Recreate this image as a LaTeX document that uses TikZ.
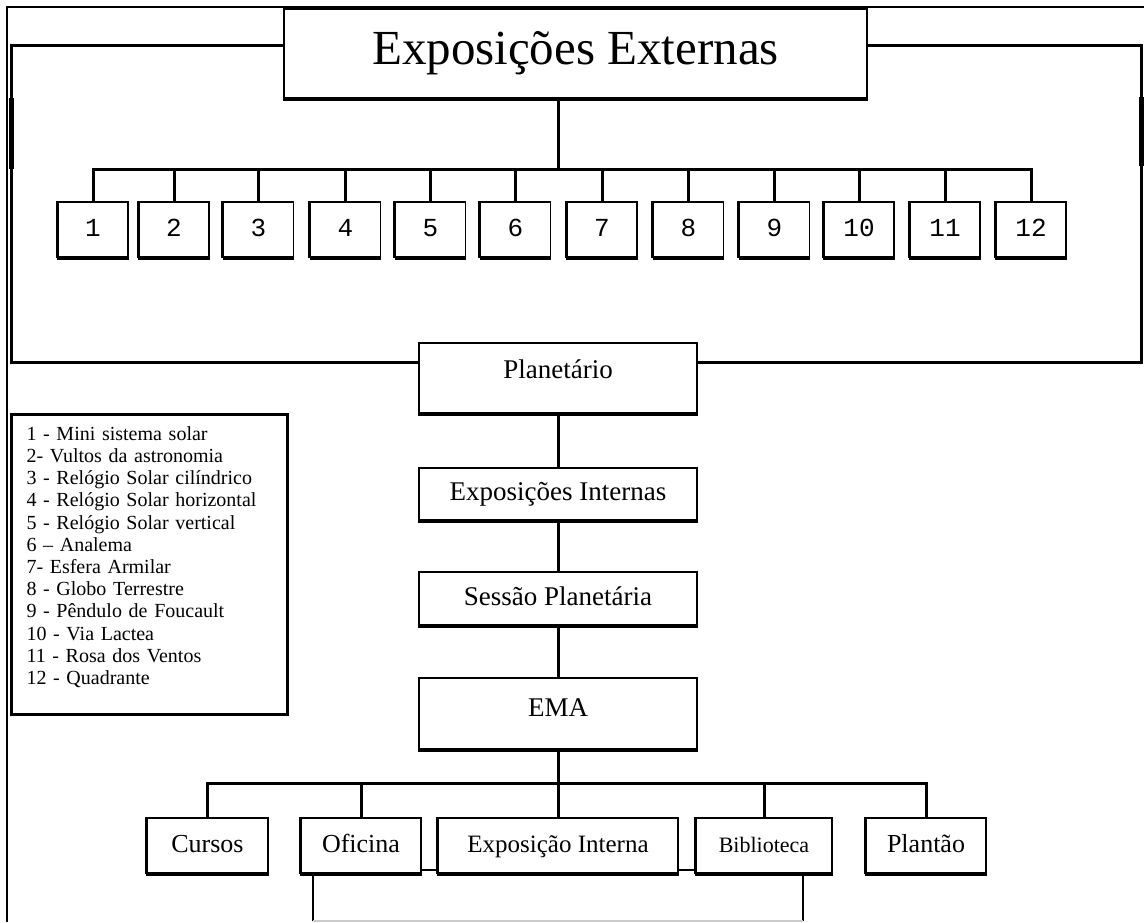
\documentclass[tikz,border=0pt]{standalone}
\usepackage{fontspec}
\setmainfont{Liberation Serif}
\newfontfamily\numfont{Liberation Mono}
\tikzset{
    frameline/.style={line width=1.5pt},
    conn/.style={line width=1.5pt},
    box/.style={draw, line width=0.8pt, inner sep=0pt, fill=white, text height=0.8em, text depth=0.14em,
        append after command={(\tikzlastnode.south west) edge[line width=2pt] (\tikzlastnode.south east)}},
    sbox/.style={box,
        append after command={(\tikzlastnode.south west) edge[line width=1.6pt] (\tikzlastnode.north west)}},
    numbox/.style={sbox, minimum width=35pt, minimum height=27.5pt, font=\numfont\fontsize{13}{15}\selectfont},
    midbox/.style={box, minimum width=139pt, font=\fontsize{13.5}{15}\selectfont},
    lowbox/.style={sbox, minimum height=27.5pt, font=\fontsize{13}{15}\selectfont},
    legend/.style={draw, line width=1.5pt, inner xsep=7.5pt, inner ysep=0pt, text width=123pt,
        minimum height=150pt, align=left, font=\fontsize{10}{11.1}\selectfont}
}
\begin{document}
\begin{tikzpicture}[x=0.5pt,y=-0.5pt]
    \useasboundingbox (0,0) rectangle (1144,922);
    % Cornice
    \draw[line width=0.7pt] (7,922) -- (7,7) -- (1144,7);
    % Nodi
    \node[box, minimum width=291.5pt, minimum height=44.5pt, text height=12pt, text depth=1.5pt, font=\fontsize{24.5}{28}\selectfont] (ext) at (575.5,53.5) {Exposições Externas};
    \node[numbox] (n1) at (93,229.5) {1};
    \node[numbox] (n2) at (174,229.5) {2};
    \node[numbox] (n3) at (258.5,229.5) {3};
    \node[numbox] (n4) at (345.5,229.5) {4};
    \node[numbox] (n5) at (430.5,229.5) {5};
    \node[numbox] (n6) at (515.5,229.5) {6};
    \node[numbox] (n7) at (602,229.5) {7};
    \node[numbox] (n8) at (688.5,229.5) {8};
    \node[numbox] (n9) at (774.5,229.5) {9};
    \node[numbox] (n10) at (859,229.5) {10};
    \node[numbox] (n11) at (945,229.5) {11};
    \node[numbox] (n12) at (1031,229.5) {12};
    \node[midbox, minimum height=35pt, text depth=7.9pt] (plan) at (558,378) {Planetário};
    \node[midbox, minimum height=26pt] (expint) at (558,494) {Exposições Internas};
    \node[midbox, minimum height=26.5pt] (sess) at (558,598.5) {Sessão Planetária};
    \node[midbox, minimum height=35.5pt, text depth=4.9pt] (ema) at (558,713.5) {EMA};
    \node[lowbox, minimum width=60.5pt] (cur) at (207.5,845.5) {Cursos};
    \node[lowbox, minimum width=60pt] (ofi) at (361,845.5) {Oficina};
    \node[lowbox, minimum width=120pt, font=\fontsize{12.5}{15}\selectfont] (exi) at (558,845.5) {Exposição Interna};
    \node[lowbox, minimum width=68pt, font=\fontsize{11}{13}\selectfont] (bib) at (764,845.5) {Biblioteca};
    \node[lowbox, minimum width=60pt] (pla) at (926,845.5) {Plantão};
    \node[legend, anchor=north west] (leg) at (10,413) {1 - Mini sistema solar\\
        2- Vultos da astronomia\\
        3 - Relógio Solar cilíndrico\\
        4 - Relógio Solar horizontal\\
        5 - Relógio Solar vertical\\
        6 – Analema\\
        7- Esfera Armilar\\
        8 - Globo Terrestre\\
        9 - Pêndulo de Foucault\\
        10 - Via Lactea\\
        11 - Rosa dos Ventos\\
        12 - Quadrante\rule[-9pt]{0pt}{9pt}};
    % Coordinate
    \coordinate (ftl) at (11,45);
    \coordinate (fbl) at (11,362);
    \coordinate (ftr) at (1141,45);
    \coordinate (fbr) at (1141,362);
    \coordinate (bus) at (558,169);
    \coordinate (lowbus) at (558,783);
    % Linee
    \draw[frameline] (plan.west |- fbl) -- (fbl) -- (ftl) -- (ext.west |- ftl);
    \draw[frameline] (plan.east |- fbr) -- (fbr) -- (ftr) -- (ext.east |- ftr);
    \draw[line width=2.5pt] (11,98) -- (11,169);
    \draw[line width=2.5pt] (1141,97) -- (1141,166);
    \draw[conn] (ext.south -| bus) -- (bus);
    \draw[conn] (n1.north) -- (n1.north |- bus) -- (n12.north |- bus) -- (n12.north);
    \draw[conn] (n2.north) -- (n2.north |- bus);
    \draw[conn] (n3.north) -- (n3.north |- bus);
    \draw[conn] (n4.north) -- (n4.north |- bus);
    \draw[conn] (n5.north) -- (n5.north |- bus);
    \draw[conn] (n6.north) -- (n6.north |- bus);
    \draw[conn] (n7.north) -- (n7.north |- bus);
    \draw[conn] (n8.north) -- (n8.north |- bus);
    \draw[conn] (n9.north) -- (n9.north |- bus);
    \draw[conn] (n10.north) -- (n10.north |- bus);
    \draw[conn] (n11.north) -- (n11.north |- bus);
    \draw[conn] (plan) -- (expint);
    \draw[conn] (expint) -- (sess);
    \draw[conn] (sess) -- (ema);
    \draw[conn] (ema) -- (lowbus);
    \draw[conn] (cur.north) -- (cur.north |- lowbus) -- (pla.north |- lowbus) -- (pla.north);
    \draw[conn] (ofi.north) -- (ofi.north |- lowbus);
    \draw[conn] (exi.north) -- (exi.north |- lowbus);
    \draw[conn] (bib.north) -- (bib.north |- lowbus);
    \draw[line width=1pt] ([yshift=2pt]ofi.south east) -- ([yshift=2pt]exi.south west);
    \draw[line width=1pt] ([yshift=2pt]exi.south east) -- ([yshift=2pt]bib.south west);
    % Box sotto
    \draw[line width=0.6pt] (313,873) -- (313,921);
    \draw[line width=0.6pt] (803,873) -- (803,921);
    \draw[gray!40, line width=0.6pt] (313,921) -- (803,921);
\end{tikzpicture}
\end{document}
